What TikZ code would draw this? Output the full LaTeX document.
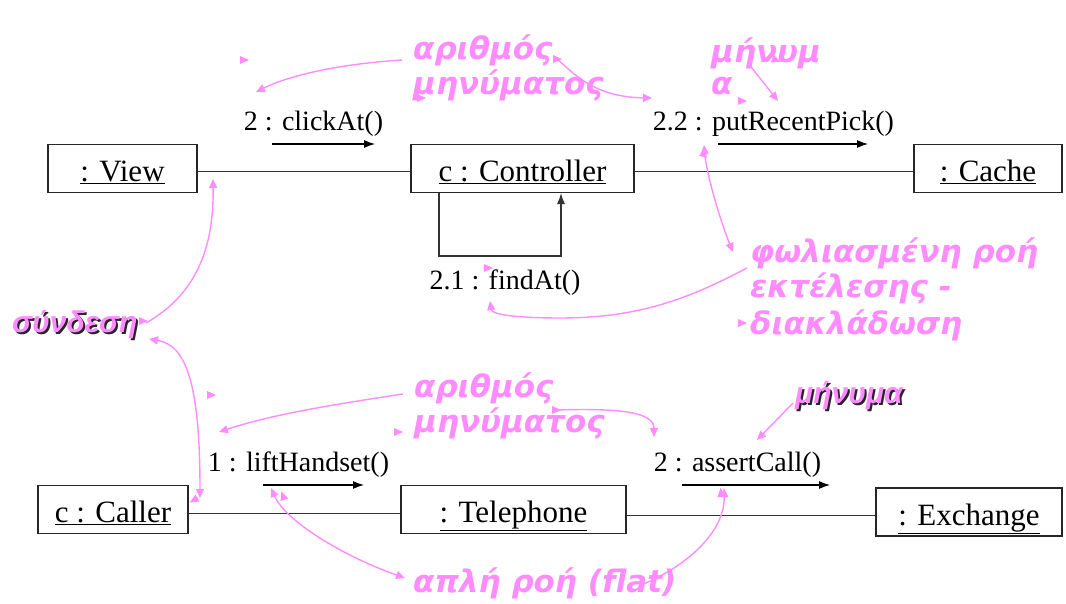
\documentclass[tikz,border=0pt]{standalone}
\usepackage{fontspec}
\setmainfont{Liberation Serif}
\newfontfamily\notefont{DejaVu Sans Bold Oblique}
\newfontfamily\shnotefont{Liberation Sans Bold Italic}
\usetikzlibrary{arrows.meta}
\definecolor{notepink}{RGB}{255,140,255}
\tikzset{
  obj/.style={draw=black!85, line width=1.1pt, inner sep=0pt, minimum height=48pt,
    text height=37pt, text depth=11pt, font=\fontsize{31}{33}\selectfont},
  msg/.style={font=\fontsize{28}{30}\selectfont, inner sep=0pt, anchor=base},
  marrow/.style={-{Latex[length=11pt,width=8pt]}, line width=1.2pt},
  link/.style={line width=1pt, black!80},
  note/.style={text=notepink, font=\notefont\fontsize{31}{34}\selectfont, inner sep=0pt, anchor=base west},
  shnote/.style={note, font=\shnotefont\fontsize{30}{33}\selectfont},
  shnoteback/.style={shnote, text=black!85},
  pn/.style={draw=notepink, line width=1.4pt},
  ptip/.style={pn, -{Triangle[length=9pt,width=8pt]}},
  pboth/.style={pn, {Triangle[length=9pt,width=8pt]}-{Triangle[length=9pt,width=8pt]}},
  stray/.pic={\fill[notepink] (-4,-4) -- (5,0) -- (-4,4) -- cycle;}
}
\begin{document}
\begin{tikzpicture}[x=1pt,y=-1pt]
\useasboundingbox (0,0) rectangle (1066,604);

% objects of the upper collaboration
\node[obj, minimum width=149pt] (view) at (122.5,168.5) {\underline{: View}};
\node[obj, minimum width=223pt] (ctrl) at (522.5,168.5) {\underline{c : Controller}};
\node[obj, minimum width=148pt] (cache) at (988,168.5) {\underline{: Cache}};

% objects of the lower collaboration
\node[obj, minimum width=150pt] (caller) at (113,509.5) {\underline{c : Caller}};
\node[obj, minimum width=225pt] (tel) at (513.5,509.5) {\underline{: Telephone}};
\node[obj, minimum width=186pt] (exch) at (969,512) {\underline{: Exchange}};

% links
\draw[link] ([yshift=-3.5pt]view.east) -- ([yshift=-3.5pt]ctrl.west);
\draw[link] ([yshift=-3.5pt]ctrl.east) -- ([yshift=-3.5pt]cache.west);
\draw[link] ([yshift=-3.5pt]caller.east) -- ([yshift=-3.5pt]tel.west);
\draw[link] ([yshift=-5.5pt]tel.east) -- ([yshift=-3pt]exch.west);

% messages
\node[msg] (m2) at (313.5,131) {2 : clickAt()};
\coordinate (m2a) at (272,144); \coordinate (m2b) at (375,144);
\draw[marrow] (m2a) -- (m2b);

\node[msg] (m22) at (773.5,131) {2.2 : putRecentPick()};
\coordinate (m22a) at (718,144); \coordinate (m22b) at (868,144);
\draw[marrow] (m22a) -- (m22b);

\node[msg] (m21) at (505,290) {2.1 : findAt()};
\coordinate (loopA) at (439,256); \coordinate (loopB) at (561,256);
\draw[line width=1.2pt, black!80, -{Latex[length=11pt,width=8pt]}]
  (ctrl.south -| loopA) -- (loopA) -- (loopB) -- (ctrl.south -| loopB);

\node[msg] (m1) at (298.5,471) {1 : liftHandset()};
\coordinate (m1a) at (263,485); \coordinate (m1b) at (364,485);
\draw[marrow] (m1a) -- (m1b);

\node[msg] (m2l) at (737.5,471) {2 : assertCall()};
\coordinate (m2la) at (682,485); \coordinate (m2lb) at (830,485);
\draw[marrow] (m2la) -- (m2lb);

% annotations
\node[note] (numA1) at (413,60) {αριθμός};
\node[note] (numA2) at (413,95) {μηνύματος};
\node[note] (msgA1) at (711,63) {μήνυμ};
\node[note] (msgA2) at (711,95) {α};
\node[note] (nest1) at (750,262) {φωλιασμένη ροή};
\node[note] (nest2) at (750,298) {εκτέλεσης -};
\node[note] (nest3) at (750,334) {διακλάδωση};
\node[shnoteback] at (14,334) {σύνδεση};
\node[shnote] (linkn) at (12,332) {σύνδεση};
\node[note] (numB1) at (414,397) {αριθμός};
\node[note] (numB2) at (414,432) {μηνύματος};
\node[shnoteback] at (797,405) {μήνυμα};
\node[shnote] (msgB) at (795,403) {μήνυμα};
\node[note] (flat) at (413,592) {απλή ροή (flat)};

% annotation pointers
\draw[ptip] (402,60) .. controls (340,64) and (290,75) .. (256,92);
\draw[ptip] (556,58) .. controls (575,75) and (595,97) .. (652,98);
\draw[ptip] (748,63) -- (778,101);
\draw[pboth] (733,252) .. controls (718,215) and (706,170) .. (704,145);
\draw[ptip] (747,268) .. controls (690,298) and (640,318) .. (560,318)
  .. controls (520,318) and (492,315) .. (490,301);
\draw[ptip] (146,323) .. controls (195,295) and (214,250) .. (213,179);
\draw[pboth] (149,339) .. controls (185,345) and (200,380) .. (200,498);
\draw[ptip] (403,394) .. controls (330,405) and (270,415) .. (219,432);
\draw[ptip] (556,410) .. controls (620,408) and (654,412) .. (654,437);
\draw[ptip] (793,403) -- (757,440);
\draw[pboth] (271,488) .. controls (285,520) and (340,555) .. (405,578);
\draw[ptip] (641,585) .. controls (690,565) and (725,530) .. (724,488);

% loose arrowheads
\pic at (244,60) {stray};
\pic at (421,98) {stray};
\pic[rotate=-20] at (776,60) {stray};
\pic at (742,101) {stray};
\pic[rotate=75] at (704,153) {stray};
\pic at (488,268) {stray};
\pic at (742,323) {stray};
\pic at (211,395) {stray};
\pic at (398,432) {stray};
\pic at (556,410) {stray};
\pic at (557,59) {stray};
\pic at (143,321) {stray};
\pic[rotate=-150] at (194,500) {stray};
\pic[rotate=110] at (283,496) {stray};
\pic[rotate=95] at (721,493) {stray};
\end{tikzpicture}
\end{document}
